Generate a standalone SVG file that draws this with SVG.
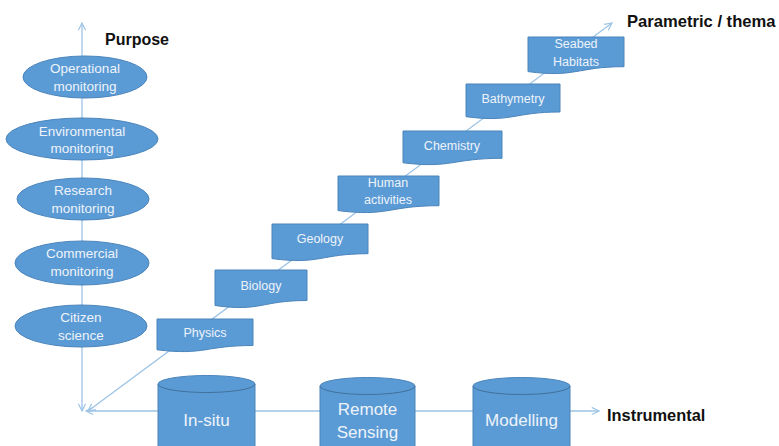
<svg xmlns="http://www.w3.org/2000/svg" width="779" height="446" viewBox="0 0 779 446">
<style>
.ax{stroke:#9dc3e6;stroke-width:1.3;fill:none}
.nd{fill:#5b9bd5;stroke:#4a84bb;stroke-width:1}
.cy{fill:none;stroke:#41719c;stroke-width:1}
.t{font-family:"Liberation Sans",Arial,sans-serif;fill:#eef3fa;text-anchor:middle}
.e{font-size:13.5px}
.r{font-size:12.5px}
.c{font-size:17px}
.lb{font-family:"Liberation Sans",Arial,sans-serif;font-weight:bold;font-size:16px;fill:#111}
</style>
<defs>
<marker id="ar" viewBox="0 0 10 10" refX="9" refY="5" markerWidth="9" markerHeight="9" markerUnits="userSpaceOnUse" orient="auto-start-reverse">
<path d="M1,1 L9,5 L1,9" fill="none" stroke="#9dc3e6" stroke-width="1.3"/>
</marker>
</defs>
<rect width="779" height="446" fill="#ffffff"/>
<g id="connectors">
<line class="ax" x1="82" y1="411" x2="82" y2="23" marker-start="url(#ar)" marker-end="url(#ar)"/>
<line class="ax" x1="86" y1="411" x2="599" y2="411" marker-start="url(#ar)" marker-end="url(#ar)"/>
<line class="ax" x1="88" y1="411" x2="612" y2="23" marker-start="url(#ar)" marker-end="url(#ar)"/>
</g>
<g id="labels">
<text class="lb" x="105" y="45">Purpose</text>
<text class="lb" x="627" y="27" style="font-size:16.6px">Parametric / thema</text>
<text class="lb" x="607" y="421" style="font-size:16.4px">Instrumental</text>
</g>
<g id="purpose-operational">
<ellipse class="nd" cx="85" cy="77" rx="62" ry="21"/>
<text class="t e" x="85" y="73">Operational</text>
<text class="t e" x="85" y="91">monitoring</text>
</g>
<g id="purpose-environmental">
<ellipse class="nd" cx="82" cy="139" rx="76" ry="21"/>
<text class="t e" x="82" y="136">Environmental</text>
<text class="t e" x="82" y="153">monitoring</text>
</g>
<g id="purpose-research">
<ellipse class="nd" cx="83" cy="199" rx="66" ry="21"/>
<text class="t e" x="83" y="195">Research</text>
<text class="t e" x="83" y="213">monitoring</text>
</g>
<g id="purpose-commercial">
<ellipse class="nd" cx="82" cy="263" rx="67" ry="22"/>
<text class="t e" x="82" y="258">Commercial</text>
<text class="t e" x="82" y="276">monitoring</text>
</g>
<g id="purpose-citizen">
<ellipse class="nd" cx="81" cy="326" rx="66" ry="21"/>
<text class="t e" x="81" y="322">Citizen</text>
<text class="t e" x="81" y="340">science</text>
</g>
<g id="theme-physics">
<path class="nd" d="M157,319 H253 V345.5 C205,345.5 205,355.6 157,349.8 Z"/>
<text class="t r" x="205" y="337">Physics</text>
</g>
<g id="theme-biology">
<path class="nd" d="M215,270 H307 V300.5 C261,300.5 261,312.1 215,305.5 Z"/>
<text class="t r" x="261" y="290">Biology</text>
</g>
<g id="theme-geology">
<path class="nd" d="M272,224 H368 V253.7 C320,253.7 320,265 272,258.6 Z"/>
<text class="t r" x="320" y="243">Geology</text>
</g>
<g id="theme-human">
<path class="nd" d="M338,176 H439 V205.7 C388,205.7 388,217 338,210.6 Z"/>
<text class="t r" x="388" y="187">Human</text>
<text class="t r" x="388" y="204">activities</text>
</g>
<g id="theme-chemistry">
<path class="nd" d="M403,131 H502 V158.3 C452,158.3 452,168.7 403,162.8 Z"/>
<text class="t r" x="452" y="150">Chemistry</text>
</g>
<g id="theme-bathymetry">
<path class="nd" d="M466,84 H560 V112 C513,112 513,122.8 466,116.7 Z"/>
<text class="t r" x="513" y="103">Bathymetry</text>
</g>
<g id="theme-seabed">
<path class="nd" d="M528,37 H624 V66.7 C576,66.7 576,78 528,71.6 Z"/>
<text class="t r" x="576" y="48">Seabed</text>
<text class="t r" x="576" y="66">Habitats</text>
</g>
<g id="inst-insitu">
<path class="nd" d="M158,384 A48.5,8.5 0 0 1 255,384 V460 H158 Z"/>
<path class="cy" d="M158,384 A48.5,8.5 0 0 0 255,384"/>
<text class="t c" x="206.5" y="426">In-situ</text>
</g>
<g id="inst-remote">
<path class="nd" d="M320,386 A47.5,8.5 0 0 1 415,386 V460 H320 Z"/>
<path class="cy" d="M320,386 A47.5,8.5 0 0 0 415,386"/>
<text class="t c" x="367.5" y="415">Remote</text>
<text class="t c" x="367.5" y="438">Sensing</text>
</g>
<g id="inst-modelling">
<path class="nd" d="M473,386 A48.5,8.5 0 0 1 570,386 V460 H473 Z"/>
<path class="cy" d="M473,386 A48.5,8.5 0 0 0 570,386"/>
<text class="t c" x="521.5" y="426">Modelling</text>
</g>
</svg>
